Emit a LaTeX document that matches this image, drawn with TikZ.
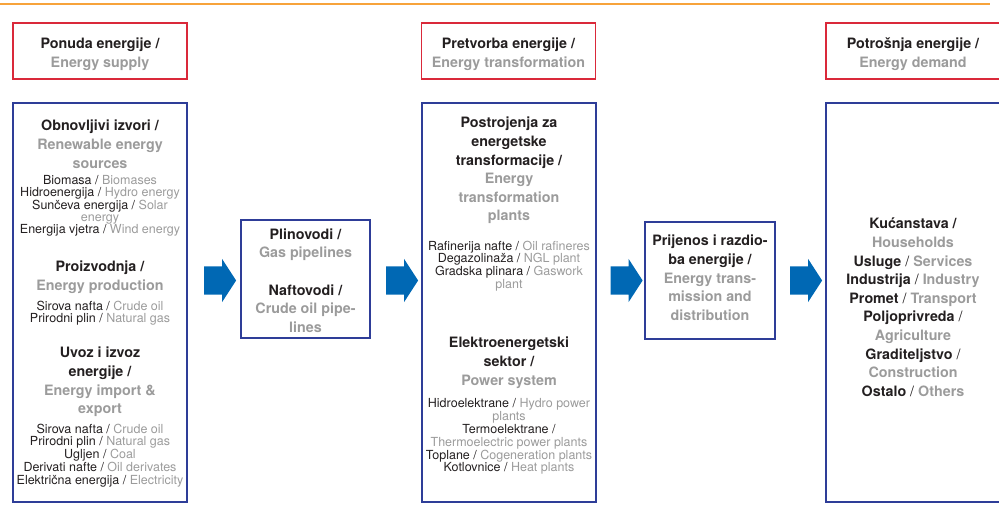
\documentclass[tikz,border=0pt]{standalone}
\usepackage{fontspec}
\setmainfont{TeX Gyre Heros}
\usetikzlibrary{shapes.arrows,calc}

% English part of a label
\newcommand{\en}[1]{\textcolor{txtgray}{#1}}
\newcommand{\sepsl}{{\mdseries /}}

\begin{document}
\begin{tikzpicture}[x=1pt, y=-1pt,
    hdtext/.style={align=center, text=txtblack, font=\fontsize{14.3}{18.6}\selectfont\bfseries},
    header/.style={draw=hdrred, line width=1.2pt, minimum width=174pt, minimum height=56pt, inner sep=0pt},
    panel/.style={draw=boxblue, line width=1.2pt, inner sep=0pt},
    heading/.style={hdtext, anchor=north, inner sep=0pt},
    detail/.style={anchor=north, align=center, inner sep=0pt, text=txtblack, font=\fontsize{12.5}{12.8}\selectfont},
    blockarrow/.style={single arrow, fill=arrowblue, draw=none, inner xsep=0pt, inner ysep=14pt, minimum height=32pt, single arrow head extend=7.5pt, single arrow tip angle=114}]
    % Define colors
    \definecolor{txtblack}{RGB}{35,31,32}
    \definecolor{txtgray}{RGB}{155,155,155}
    \definecolor{boxblue}{RGB}{46,61,152}
    \definecolor{hdrred}{RGB}{218,41,58}
    \definecolor{arrowblue}{RGB}{0,104,180}
    \definecolor{rulecolor}{RGB}{247,163,59}

    \useasboundingbox (0,0) rectangle (999,511);
    \clip (0,0) rectangle (999,511);

    % Top rule
    \draw[rulecolor, line width=2pt] (0,4) -- (990,4);

    % Column headers
    \node[header] (supplyhd) at (100,51) {};
    \node[header] (transfhd) at (508.5,51) {};
    \node[header] (demandhd) at (913,51) {};
    \node[heading] (supplytxt) at (100,38) {Ponuda energije /\\ \en{Energy supply}};
    \node[heading] (transftxt) at (508.5,38) {Pretvorba energije /\\ \en{Energy transformation}};
    \node[heading] (demandtxt) at (913,38) {Potrošnja energije /\\ \en{Energy demand}};

    % Panels
    \node[panel, minimum width=174pt, minimum height=399pt] (supply) at (100,302.5) {};
    \node[panel, minimum width=129pt, minimum height=118pt] (pipes) at (305.5,279) {};
    \node[panel, minimum width=174pt, minimum height=399pt] (transf) at (509,302.5) {};
    \node[panel, minimum width=130pt, minimum height=117pt] (trans) at (710,280.5) {};
    \node[panel, minimum width=174pt, minimum height=399pt] (demand) at (913,302.5) {};

    % Energy supply
    \node[heading] (renew) at (100,120) {Obnovljivi izvori /\\ \en{Renewable energy}\\ \en{sources}};
    \node[detail, font=\fontsize{12.5}{11.9}\selectfont] (renewlist) at (100,175.6) {Biomasa / \en{Biomases}\\ Hidroenergija / \en{Hydro energy}\\ Sunčeva energija / \en{Solar}\\ \en{energy}\\ Energija vjetra / \en{Wind energy}};
    \node[heading] (prod) at (100,261) {Proizvodnja /\\ \en{Energy production}};
    \node[detail] (prodlist) at (100,300.6) {Sirova nafta / \en{Crude oil}\\ Prirodni plin / \en{Natural gas}};
    \node[heading] (impexp) at (100,347) {Uvoz i izvoz\\ energije /\\ \en{Energy import \&}\\ \en{export}};
    \node[detail] (impexplist) at (100,423.6) {Sirova nafta / \en{Crude oil}\\ Prirodni plin / \en{Natural gas}\\ Ugljen / \en{Coal}\\ Derivati nafte / \en{Oil derivates}\\ Električna energija / \en{Electricity}};

    % Pipelines
    \node[heading] (pipetext) at (305.5,228.5) {Plinovodi /\\ \en{Gas pipelines}\\[18.6pt] Naftovodi /\\ \en{Crude oil pipe-}\\ \en{lines}};

    % Energy transformation
    \node[heading] (plants) at (509,117) {Postrojenja za\\ energetske\\ transformacije /\\ \en{Energy}\\ \en{transformation}\\ \en{plants}};
    \node[detail] (plantlist) at (509,240.6) {Rafinerija nafte / \en{Oil rafineres}\\ Degazolinaža / \en{NGL plant}\\ Gradska plinara / \en{Gaswork}\\ \en{plant}};
    \node[heading] (power) at (509,337) {Elektroenergetski\\ sektor /\\ \en{Power system}};
    \node[detail] (powerlist) at (509,398.6) {Hidroelektrane / \en{Hydro power}\\ \en{plants}\\ Termoelektrane /\\ \en{Thermoelectric power plants}\\ Toplane / \en{Cogeneration plants}\\ Kotlovnice / \en{Heat plants}};

    % Transmission
    \node[heading] (transtext) at (710,235) {Prijenos i razdio-\\ ba energije /\\ \en{Energy trans-}\\ \en{mission and}\\ \en{distribution}};

    % Energy demand
    \node[heading] (sectors) at (913,218) {Kućanstava /\\ \en{Households}\\ Usluge \sepsl{} \en{Services}\\ Industrija \sepsl{} \en{Industry}\\ Promet \sepsl{} \en{Transport}\\ Poljoprivreda \sepsl\\ \en{Agriculture}\\ Graditeljstvo \sepsl\\ \en{Construction}\\ Ostalo \sepsl{} \en{Others}};

    % Flow arrows
    \node[blockarrow] (arrA) at ($(supply.east |- pipes.west)!0.5!(pipes.west) + (1.5,1.5)$) {};
    \node[blockarrow] (arrB) at ($(pipes.east)!0.5!(pipes.east -| transf.west) + (1.5,1.5)$) {};
    \node[blockarrow] (arrC) at ($(transf.east |- trans.west)!0.5!(trans.west) + (1.5,0)$) {};
    \node[blockarrow] (arrD) at ($(trans.east)!0.5!(trans.east -| demand.west) + (1,0)$) {};
\end{tikzpicture}
\end{document}
